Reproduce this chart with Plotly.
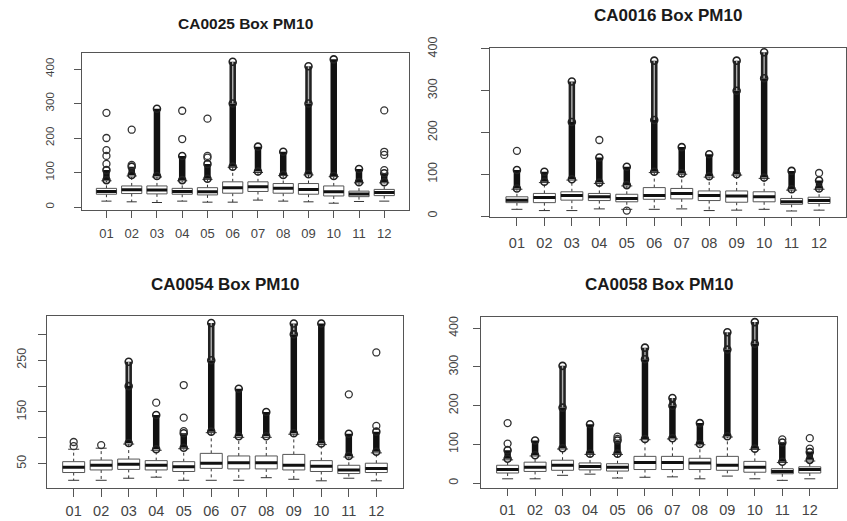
import plotly.graph_objects as go

# ---------------- data ----------------
months = ["01", "02", "03", "04", "05", "06", "07", "08", "09", "10", "11", "12"]
month_pos = [1, 2, 3, 4, 5, 6, 7, 8, 9, 10, 11, 12]

# CA0025
ca0025_q1 = [37, 39, 38, 37, 35, 40, 45, 40, 37, 32, 30, 33]
ca0025_med = [45, 50, 49, 45, 44, 56, 59, 54, 51, 44, 38, 42]
ca0025_q3 = [54, 61, 61, 54, 56, 73, 73, 68, 68, 61, 46, 51]
ca0025_lo = [17, 15, 13, 17, 14, 14, 20, 17, 15, 11, 16, 17]
ca0025_hi = [76, 90, 87, 76, 80, 115, 100, 91, 93, 88, 70, 70]
ca0025_dense_lo = [78, 93, 90, 78, 82, 117, 103, 93, 95, 90, 72, 72]
ca0025_dense_hi = [107, 117, 285, 148, 125, 300, 175, 160, 300, 428, 110, 98]
ca0025_ring_lo = [None, None, None, None, None, 300, None, None, 300, None, None, None]
ca0025_ring_hi = [None, None, None, None, None, 421, None, None, 408, None, None, None]
ca0025_sparse = [[125, 148, 165, 200, 273], [122, 224], [], [197, 279], [143, 148, 256],
                 [], [], [], [], [], [], [107, 151, 160, 280]]

# CA0016
ca0016_q1 = [32, 32, 38, 37, 34, 40, 41, 37, 33, 34, 28, 30]
ca0016_med = [38, 44, 49, 46, 42, 49, 54, 49, 48, 46, 34, 37]
ca0016_q3 = [46, 54, 58, 54, 52, 68, 66, 60, 60, 58, 42, 45]
ca0016_lo = [16, 13, 13, 17, 16, 16, 17, 13, 14, 16, 12, 14]
ca0016_hi = [64, 80, 86, 78, 72, 104, 100, 93, 98, 90, 62, 64]
ca0016_dense_lo = [66, 82, 88, 80, 74, 106, 102, 95, 100, 92, 64, 66]
ca0016_dense_hi = [110, 106, 225, 140, 118, 230, 165, 148, 300, 330, 108, 85]
ca0016_ring_lo = [None, None, 225, None, None, 230, None, None, 300, 330, None, None]
ca0016_ring_hi = [None, None, 322, None, None, 372, None, None, 372, 392, None, None]
ca0016_sparse = [[156], [], [], [182], [13], [], [], [], [], [], [], [103]]

# CA0054
ca0054_q1 = [33, 38, 39, 38, 35, 41, 40, 40, 38, 35, 31, 33]
ca0054_med = [43, 47, 49, 47, 44, 51, 52, 52, 47, 45, 38, 41]
ca0054_q3 = [54, 57, 59, 56, 54, 70, 65, 65, 68, 56, 47, 51]
ca0054_lo = [18, 18, 22, 24, 18, 18, 18, 23, 20, 17, 22, 17]
ca0054_hi = [78, 80, 88, 76, 79, 110, 101, 101, 107, 87, 63, 71]
ca0054_dense_lo = [None, None, 90, 78, 81, 112, 103, 103, 109, 89, 65, 73]
ca0054_dense_hi = [None, None, 200, 144, 109, 250, 195, 150, 300, 321, 108, 112]
ca0054_ring_lo = [None, None, 200, None, None, 250, None, None, 300, None, None, None]
ca0054_ring_hi = [None, None, 247, None, None, 322, None, None, 321, None, None, None]
ca0054_sparse = [[84, 92], [86], [], [168], [113, 139, 202], [], [], [], [], [], [184], [123, 265]]

# CA0058
ca0058_q1 = [26, 30, 33, 34, 31, 35, 35, 35, 33, 28, 24, 26]
ca0058_med = [35, 41, 46, 43, 41, 53, 53, 52, 46, 41, 30, 35]
ca0058_q3 = [46, 54, 59, 52, 50, 69, 69, 64, 69, 56, 37, 42]
ca0058_lo = [11, 11, 20, 23, 13, 15, 16, 11, 18, 11, 7, 11]
ca0058_hi = [60, 70, 88, 74, 74, 112, 114, 99, 119, 87, 53, 57]
ca0058_dense_lo = [63, 72, 90, 76, 76, 114, 116, 101, 121, 89, 55, 60]
ca0058_dense_hi = [85, 110, 195, 152, 110, 320, 200, 155, 345, 360, 105, 80]
ca0058_ring_lo = [None, None, 195, None, None, 320, 200, None, 345, 360, None, None]
ca0058_ring_hi = [None, None, 303, None, None, 350, 220, None, 390, 416, None, None]
ca0058_sparse = [[102, 155], [], [], [], [114, 120], [], [], [], [], [], [113], [89, 116]]

titles = ["CA0025 Box PM10", "CA0016 Box PM10", "CA0054 Box PM10", "CA0058 Box PM10"]

# ---------------- layout geometry (pixels of the 847x521 page) ----------------
W, H = 847, 521
panels = [
    dict(stats=(ca0025_q1, ca0025_med, ca0025_q3, ca0025_lo, ca0025_hi, ca0025_dense_lo,
                ca0025_dense_hi, ca0025_ring_lo, ca0025_ring_hi, ca0025_sparse),
         px=(81.7, 409), py=(53, 210), yr=(-8.7, 446.4), yt=[0, 100, 200, 300, 400],
         ytt=["0", "100", "200", "300", "400"], title_xy=(245.4, 23.5), tfs=15.5,
         xfs=13, yfs=11.5, ticklen=7, ystand=15, xstand=4),
    dict(stats=(ca0016_q1, ca0016_med, ca0016_q3, ca0016_lo, ca0016_hi, ca0016_dense_lo,
                ca0016_dense_hi, ca0016_ring_lo, ca0016_ring_hi, ca0016_sparse),
         px=(490, 846), py=(47.7, 217), yr=(-2.4, 403), yt=[0, 100, 200, 300, 400],
         ytt=["0", "100", "200", "300", "400"], title_xy=(668, 15), tfs=17,
         xfs=14.5, yfs=12.5, ticklen=8, ystand=39, xstand=5),
    dict(stats=(ca0054_q1, ca0054_med, ca0054_q3, ca0054_lo, ca0054_hi, ca0054_dense_lo,
                ca0054_dense_hi, ca0054_ring_lo, ca0054_ring_hi, ca0054_sparse),
         px=(46.7, 403.3), py=(315.7, 488), yr=(3.1, 336), yt=[50, 100, 150, 200, 250, 300],
         ytt=["50", "", "150", "", "250", ""], title_xy=(225, 284), tfs=17,
         xfs=14.5, yfs=12.5, ticklen=8, ystand=7, xstand=2),
    dict(stats=(ca0058_q1, ca0058_med, ca0058_q3, ca0058_lo, ca0058_hi, ca0058_dense_lo,
                ca0058_dense_hi, ca0058_ring_lo, ca0058_ring_hi, ca0058_sparse),
         px=(480.7, 836.7), py=(316.7, 487.7), yr=(-12, 430), yt=[0, 100, 200, 300, 400],
         ytt=["0", "100", "200", "300", "400"], title_xy=(658.7, 284), tfs=17,
         xfs=14.5, yfs=12.5, ticklen=7, ystand=10, xstand=2),
]

FONT = "Liberation Sans, Arial, sans-serif"
FRAME = "#555555"
TXT = "#444444"
BOXW = 0.4      # half box width (boxwex 0.8)
STAPW = 0.2     # half staple width

fig = go.Figure()
layout = dict(width=W, height=H, margin=dict(l=0, r=0, t=0, b=0, autoexpand=False),
              paper_bgcolor="white", plot_bgcolor="white", showlegend=False,
              annotations=[])

for k, p in enumerate(panels):
    q1, med, q3, lo, hi, dlo, dhi, rlo, rhi, sparse = p["stats"]
    sfx = "" if k == 0 else str(k + 1)
    xa, ya = "x" + sfx, "y" + sfx

    wx, wy = [], []      # whiskers
    bx, by = [], []      # boxes
    mx, my = [], []      # medians
    sx, sy = [], []      # staples
    dx, dy = [], []      # dense outlier columns
    ex, ey = [], []      # column end markers
    rx, ry = [], []      # ring columns
    ox, oy = [], []      # sparse outliers
    for i, x in enumerate(month_pos):
        wx += [x, x, None, x, x, None]
        wy += [q3[i], hi[i], None, q1[i], lo[i], None]
        bx += [x - BOXW, x + BOXW, x + BOXW, x - BOXW, x - BOXW, None]
        by += [q1[i], q1[i], q3[i], q3[i], q1[i], None]
        mx += [x - BOXW, x + BOXW, None]
        my += [med[i], med[i], None]
        sx += [x - STAPW, x + STAPW, None, x - STAPW, x + STAPW, None]
        sy += [hi[i], hi[i], None, lo[i], lo[i], None]
        if dlo[i] is not None:
            dx += [x, x, None]
            dy += [dlo[i], dhi[i], None]
            ex += [x, x]
            ey += [dlo[i], dhi[i]]
        if rlo[i] is not None:
            rx += [x, x, None]
            ry += [rlo[i], rhi[i], None]
            ex += [x]
            ey += [rhi[i]]
        for v in sparse[i]:
            ox.append(x)
            oy.append(v)

    common = dict(xaxis=xa, yaxis=ya, hoverinfo="skip", showlegend=False)
    fig.add_trace(go.Scatter(x=wx, y=wy, mode="lines",
                             line=dict(color="#333333", width=1, dash="3px,3px"), **common))
    fig.add_trace(go.Scatter(x=sx, y=sy, mode="lines",
                             line=dict(color="#333333", width=1), **common))
    fig.add_trace(go.Scatter(x=bx, y=by, mode="lines", fill="toself", fillcolor="white",
                             line=dict(color="#555555", width=1), **common))
    fig.add_trace(go.Scatter(x=mx, y=my, mode="lines",
                             line=dict(color="#111111", width=3), **common))
    fig.add_trace(go.Scatter(x=dx, y=dy, mode="lines",
                             line=dict(color="#111111", width=6.5), **common))
    fig.add_trace(go.Scatter(x=rx, y=ry, mode="lines",
                             line=dict(color="#222222", width=6.5), **common))
    fig.add_trace(go.Scatter(x=rx, y=ry, mode="lines",
                             line=dict(color="#b0b0b0", width=1.4), **common))
    fig.add_trace(go.Scatter(x=ex, y=ey, mode="markers",
                             marker=dict(symbol="circle-open", size=7, color="#222222",
                                         line=dict(width=1.6, color="#222222")), **common))
    fig.add_trace(go.Scatter(x=ox, y=oy, mode="markers",
                             marker=dict(symbol="circle-open", size=7, color="#333333",
                                         line=dict(width=1.3, color="#333333")), **common))

    x0, x1 = p["px"]
    y0, y1 = p["py"]
    layout["xaxis" + sfx] = dict(
        domain=[x0 / W, x1 / W], anchor=ya, range=[0.02, 12.98], automargin=False,
        tickmode="array", tickvals=month_pos, ticktext=months,
        showline=True, mirror=True, linecolor=FRAME, linewidth=1,
        ticks="outside", ticklen=p["ticklen"], tickcolor=FRAME, tickwidth=1,
        showgrid=False, zeroline=False, ticklabelstandoff=p["xstand"],
        tickfont=dict(family=FONT, size=p["xfs"], color=TXT), fixedrange=True)
    layout["yaxis" + sfx] = dict(
        domain=[1 - y1 / H, 1 - y0 / H], anchor=xa, range=list(p["yr"]), automargin=False,
        tickmode="array", tickvals=p["yt"], ticktext=p["ytt"], tickangle=-90,
        showline=True, mirror=True, linecolor=FRAME, linewidth=1,
        ticks="outside", ticklen=p["ticklen"], tickcolor=FRAME, tickwidth=1,
        showgrid=False, zeroline=False, ticklabelstandoff=p["ystand"],
        tickfont=dict(family=FONT, size=p["yfs"], color=TXT), fixedrange=True)
    tx, ty = p["title_xy"]
    layout["annotations"].append(dict(
        text="<b>" + titles[k] + "</b>", xref="paper", yref="paper",
        x=tx / W, y=1 - ty / H, xanchor="center", yanchor="middle", showarrow=False,
        font=dict(family=FONT, size=p["tfs"], color="#1a1a1a")))

fig.update_layout(**layout)
fig.write_html("out.html")
